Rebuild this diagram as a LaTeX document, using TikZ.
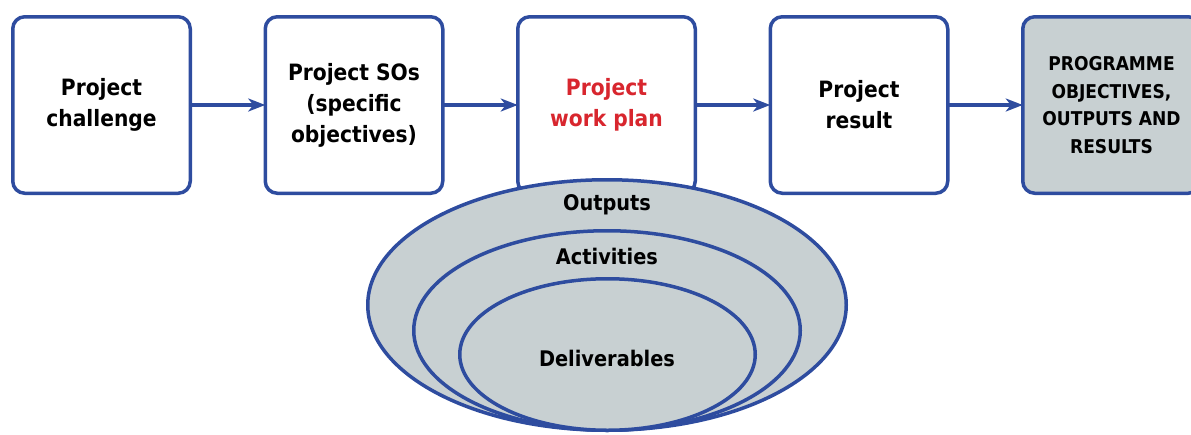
\documentclass[tikz,border=0pt]{standalone}
\usepackage{fontspec}
\setmainfont{DejaVu Sans Condensed}
\usetikzlibrary{positioning,shapes.geometric,arrows.meta}
\definecolor{planblue}{HTML}{2E4C9F}
\definecolor{plangray}{HTML}{C8D0D2}
\definecolor{planred}{HTML}{D8262E}
\begin{document}
\begin{tikzpicture}[x=1pt, y=-1pt, >={Stealth[length=17pt,width=13pt,inset=5pt]},
  stage/.style={draw=planblue, line width=3.5pt, rounded corners=12pt, fill=white,
    outer sep=0pt, minimum width=177.5pt, minimum height=176.5pt, align=center,
    font=\bfseries\fontsize{22.5}{31}\selectfont},
  level/.style={ellipse, draw=planblue, line width=3.5pt, fill=plangray, inner sep=0pt},
  levellabel/.style={font=\bfseries\fontsize{21.5}{26}\selectfont},
  link/.style={->, draw=planblue, line width=3.5pt}]
  \useasboundingbox (0,0) rectangle (1191,434);
  % project chain
  \node[stage] (challenge) at (101.5,105) {Project\\challenge};
  \node[stage, right=75pt of challenge] (sos) {Project SOs\\(specific\\objectives)};
  \node[stage, right=75pt of sos, text=planred] (workplan) {Project\\work plan};
  \node[stage, right=75pt of workplan] (result) {Project\\result};
  \node[stage, right=75pt of result, fill=plangray,
    font=\bfseries\fontsize{19}{27.5}\selectfont] (programme)
    {PROGRAMME\\OBJECTIVES,\\OUTPUTS AND\\RESULTS};
  \draw[link] (challenge) -- (sos);
  \draw[link] (sos) -- (workplan);
  \draw[link] (workplan) -- (result);
  \draw[link] (result) -- (programme);
  % nested levels of the work plan
  \node[level, minimum width=478.5pt, minimum height=250.5pt] (outputs) at (607,305) {};
  \node[level, minimum width=386.5pt, minimum height=199.5pt] (activities) at (607,330.5) {};
  \node[level, minimum width=295.5pt, minimum height=151.5pt] (deliverables) at (607.5,354.5) {};
  \node[levellabel] (outputslabel) at (607,205) {Outputs};
  \node[levellabel] (activitieslabel) at (607,256) {Activities};
  \node[levellabel] (deliverableslabel) at (607,358) {Deliverables};
\end{tikzpicture}
\end{document}
